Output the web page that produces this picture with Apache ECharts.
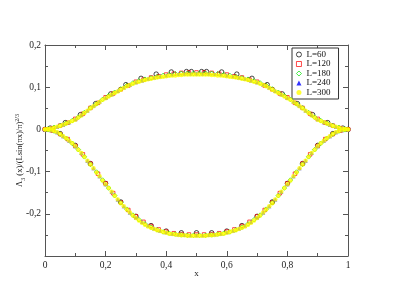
<!DOCTYPE html>
<html><head><meta charset="utf-8">
<script src="https://cdn.jsdelivr.net/npm/echarts@6/dist/echarts.min.js"></script>
<style>html,body{margin:0;padding:0;background:#fff}#c{width:415px;height:294px}</style>
</head><body><div id="c"></div>
<script>
// ---- data ----
var seriesNames = ['L=60', 'L=120', 'L=180', 'L=240', 'L=300'];
var xTicks = ['0', '0,2', '0,4', '0,6', '0,8', '1'];
var yTicks = ['-0,2', '-0,1', '0', '0,1', '0,2'];

// L=60 (upper and lower branch at different x)
var x60Up = [0, 0.017, 0.067, 0.117, 0.167, 0.217, 0.267, 0.317, 0.367, 0.417, 0.467, 0.483, 0.517, 0.533, 0.583, 0.633, 0.683, 0.733, 0.783, 0.833, 0.883, 0.933, 0.983, 1];
var y60Up = [0, 0.003, 0.016, 0.035, 0.061, 0.084, 0.106, 0.121, 0.131, 0.136, 0.137, 0.137, 0.137, 0.137, 0.136, 0.131, 0.121, 0.106, 0.084, 0.061, 0.035, 0.016, 0.003, 0];
var x60Lo = [0.05, 0.1, 0.15, 0.2, 0.25, 0.3, 0.35, 0.4, 0.45, 0.5, 0.55, 0.6, 0.65, 0.7, 0.75, 0.8, 0.85, 0.9, 0.95];
var y60Lo = [-0.010, -0.038, -0.081, -0.128, -0.172, -0.206, -0.228, -0.241, -0.245, -0.245, -0.245, -0.241, -0.228, -0.206, -0.172, -0.128, -0.081, -0.038, -0.010];

// L=120
var x120 = [0, 0.025, 0.05, 0.075, 0.1, 0.125, 0.15, 0.175, 0.2, 0.225, 0.25, 0.275, 0.3, 0.325, 0.35, 0.375, 0.4, 0.425, 0.45, 0.475, 0.5,
  0.525, 0.55, 0.575, 0.6, 0.625, 0.65, 0.675, 0.7, 0.725, 0.75, 0.775, 0.8, 0.825, 0.85, 0.875, 0.9, 0.925, 0.95, 0.975, 1];
var y120Up = [0, 0.003, 0.009, 0.016, 0.025, 0.037, 0.051, 0.063, 0.076, 0.085, 0.095, 0.104, 0.113, 0.118, 0.123, 0.126, 0.130, 0.132, 0.134, 0.135, 0.135,
  0.135, 0.134, 0.132, 0.130, 0.126, 0.123, 0.118, 0.113, 0.104, 0.095, 0.085, 0.076, 0.063, 0.051, 0.037, 0.025, 0.016, 0.009, 0.003, 0];
var y120Lo = [0, -0.003, -0.011, -0.023, -0.039, -0.059, -0.081, -0.105, -0.128, -0.151, -0.173, -0.191, -0.206, -0.219, -0.229, -0.237, -0.242, -0.246, -0.248, -0.249, -0.249,
  -0.249, -0.248, -0.246, -0.242, -0.237, -0.229, -0.219, -0.206, -0.191, -0.173, -0.151, -0.128, -0.105, -0.081, -0.059, -0.039, -0.023, -0.011, -0.003, 0];

// L=180
var x180 = [0.01, 0.03, 0.05, 0.07, 0.09, 0.11, 0.13, 0.15, 0.17, 0.19, 0.21, 0.23, 0.25, 0.27, 0.29, 0.31, 0.33, 0.35, 0.37, 0.39, 0.41, 0.43, 0.45, 0.47, 0.49,
  0.51, 0.53, 0.55, 0.57, 0.59, 0.61, 0.63, 0.65, 0.67, 0.69, 0.71, 0.73, 0.75, 0.77, 0.79, 0.81, 0.83, 0.85, 0.87, 0.89, 0.91, 0.93, 0.95, 0.97, 0.99];
var y180Up = [0.001, 0.005, 0.009, 0.015, 0.021, 0.029, 0.040, 0.051, 0.061, 0.071, 0.080, 0.088, 0.096, 0.104, 0.110, 0.115, 0.119, 0.122, 0.125, 0.128, 0.130, 0.132, 0.133, 0.133, 0.133,
  0.133, 0.133, 0.133, 0.132, 0.130, 0.128, 0.125, 0.122, 0.119, 0.115, 0.110, 0.104, 0.096, 0.088, 0.080, 0.071, 0.061, 0.051, 0.040, 0.029, 0.021, 0.015, 0.009, 0.005, 0.001];
var y180Lo = [-0.001, -0.004, -0.011, -0.021, -0.033, -0.048, -0.065, -0.083, -0.101, -0.120, -0.139, -0.157, -0.174, -0.189, -0.203, -0.214, -0.224, -0.232, -0.238, -0.243, -0.246, -0.248, -0.250, -0.251, -0.251,
  -0.251, -0.251, -0.250, -0.248, -0.246, -0.243, -0.238, -0.232, -0.224, -0.214, -0.203, -0.189, -0.174, -0.157, -0.139, -0.120, -0.101, -0.083, -0.065, -0.048, -0.033, -0.021, -0.011, -0.004, -0.001];

// L=240
var x240 = [0, 0.02, 0.04, 0.06, 0.08, 0.1, 0.12, 0.14, 0.16, 0.18, 0.2, 0.22, 0.24, 0.26, 0.28, 0.3, 0.32, 0.34, 0.36, 0.38, 0.4, 0.42, 0.44, 0.46, 0.48, 0.5,
  0.52, 0.54, 0.56, 0.58, 0.6, 0.62, 0.64, 0.66, 0.68, 0.7, 0.72, 0.74, 0.76, 0.78, 0.8, 0.82, 0.84, 0.86, 0.88, 0.9, 0.92, 0.94, 0.96, 0.98, 1];
var y240Up = [0, 0.002, 0.006, 0.011, 0.017, 0.024, 0.034, 0.045, 0.056, 0.066, 0.075, 0.083, 0.091, 0.099, 0.106, 0.112, 0.116, 0.120, 0.123, 0.126, 0.128, 0.130, 0.131, 0.132, 0.132, 0.132,
  0.132, 0.132, 0.131, 0.130, 0.128, 0.126, 0.123, 0.120, 0.116, 0.112, 0.106, 0.099, 0.091, 0.083, 0.075, 0.066, 0.056, 0.045, 0.034, 0.024, 0.017, 0.011, 0.006, 0.002, 0];
var y240Lo = [0, -0.002, -0.007, -0.016, -0.027, -0.040, -0.056, -0.074, -0.092, -0.111, -0.130, -0.148, -0.166, -0.182, -0.197, -0.209, -0.219, -0.228, -0.235, -0.240, -0.244, -0.247, -0.249, -0.250, -0.251, -0.251,
  -0.251, -0.250, -0.249, -0.247, -0.244, -0.240, -0.235, -0.228, -0.219, -0.209, -0.197, -0.182, -0.166, -0.148, -0.130, -0.111, -0.092, -0.074, -0.056, -0.040, -0.027, -0.016, -0.007, -0.002, 0];

// L=300
var x300 = [0, 0.01, 0.02, 0.03, 0.04, 0.05, 0.06, 0.07, 0.08, 0.09, 0.1, 0.11, 0.12, 0.13, 0.14, 0.15, 0.16, 0.17, 0.18, 0.19, 0.2, 0.21, 0.22, 0.23, 0.24, 0.25,
  0.26, 0.27, 0.28, 0.29, 0.3, 0.31, 0.32, 0.33, 0.34, 0.35, 0.36, 0.37, 0.38, 0.39, 0.4, 0.41, 0.42, 0.43, 0.44, 0.45, 0.46, 0.47, 0.48, 0.49, 0.5,
  0.51, 0.52, 0.53, 0.54, 0.55, 0.56, 0.57, 0.58, 0.59, 0.6, 0.61, 0.62, 0.63, 0.64, 0.65, 0.66, 0.67, 0.68, 0.69, 0.7, 0.71, 0.72, 0.73, 0.74, 0.75,
  0.76, 0.77, 0.78, 0.79, 0.8, 0.81, 0.82, 0.83, 0.84, 0.85, 0.86, 0.87, 0.88, 0.89, 0.9, 0.91, 0.92, 0.93, 0.94, 0.95, 0.96, 0.97, 0.98, 0.99, 1];
var y300Up = [0, 0.001, 0.002, 0.004, 0.006, 0.008, 0.011, 0.014, 0.017, 0.020, 0.023,
  0.028, 0.033, 0.039, 0.044, 0.050, 0.055, 0.060, 0.065, 0.070, 0.074,
  0.078, 0.082, 0.086, 0.090, 0.094, 0.098, 0.102, 0.105, 0.108, 0.111,
  0.113, 0.115, 0.117, 0.119, 0.120, 0.122, 0.123, 0.124, 0.125, 0.126,
  0.127, 0.128, 0.128, 0.129, 0.129, 0.130, 0.130, 0.130, 0.130, 0.130,
  0.130, 0.130, 0.130, 0.130, 0.129, 0.129, 0.128, 0.128, 0.127, 0.126,
  0.125, 0.124, 0.123, 0.122, 0.120, 0.119, 0.117, 0.115, 0.113, 0.111,
  0.108, 0.105, 0.102, 0.098, 0.094, 0.090, 0.086, 0.082, 0.078, 0.074,
  0.070, 0.065, 0.060, 0.055, 0.050, 0.044, 0.039, 0.033, 0.028, 0.023,
  0.020, 0.017, 0.014, 0.011, 0.008, 0.006, 0.004, 0.002, 0.001, 0];
var y300Lo = [0, -0.0005, -0.002, -0.004, -0.007, -0.011, -0.016, -0.021, -0.027, -0.033, -0.040,
  -0.048, -0.056, -0.065, -0.074, -0.083, -0.092, -0.102, -0.111, -0.121, -0.130,
  -0.139, -0.148, -0.157, -0.166, -0.175, -0.182, -0.190, -0.197, -0.204, -0.210,
  -0.216, -0.221, -0.226, -0.230, -0.233, -0.236, -0.239, -0.241, -0.243, -0.245,
  -0.247, -0.248, -0.249, -0.250, -0.251, -0.251, -0.252, -0.252, -0.252, -0.252,
  -0.252, -0.252, -0.252, -0.251, -0.251, -0.250, -0.249, -0.248, -0.247, -0.245,
  -0.243, -0.241, -0.239, -0.236, -0.233, -0.230, -0.226, -0.221, -0.216, -0.210,
  -0.204, -0.197, -0.190, -0.182, -0.175, -0.166, -0.157, -0.148, -0.139, -0.130,
  -0.121, -0.111, -0.102, -0.092, -0.083, -0.074, -0.065, -0.056, -0.048, -0.040,
  -0.033, -0.027, -0.021, -0.016, -0.011, -0.007, -0.004, -0.002, -0.0005, 0];

// ---- build ----
function zip(xs, ys) { var out = []; for (var i = 0; i < xs.length; i++) out.push([xs[i], ys[i]]); return out; }
var serif = "'Liberation Serif', 'DejaVu Serif', serif";

var seriesData = [
  zip(x60Up, y60Up).concat(zip(x60Lo, y60Lo)),
  zip(x120, y120Up).concat(zip(x120, y120Lo)),
  zip(x180, y180Up).concat(zip(x180, y180Lo)),
  zip(x240, y240Up).concat(zip(x240, y240Lo)),
  zip(x300, y300Up).concat(zip(x300, y300Lo))
];
var styles = [
  { symbol: 'circle', size: 4.5, itemStyle: { color: 'rgba(255,255,255,0)', borderColor: '#000', borderWidth: 0.9 } },
  { symbol: 'rect', size: 3.5, itemStyle: { color: 'rgba(255,255,255,0)', borderColor: '#ff0000', borderWidth: 0.9 } },
  { symbol: 'diamond', size: 4.5, itemStyle: { color: 'rgba(255,255,255,0)', borderColor: '#00dd00', borderWidth: 0.9 } },
  { symbol: 'triangle', size: 4, itemStyle: { color: '#0000ff' } },
  { symbol: 'circle', size: 4.5, itemStyle: { color: '#ffff00' } }
];

function xLabel(v) { var i = Math.round(v * 5); return xTicks[i]; }
function yLabel(v) { var i = Math.round(v * 10) + 2; return (i >= 0 && i < yTicks.length) ? yTicks[i] : ''; }

function axisCommon() {
  return {
    axisLine: { show: true, onZero: false, lineStyle: { color: '#555', width: 1 } },
    axisTick: { show: true, inside: true, length: 5, lineStyle: { color: '#555', width: 1 } },
    minorTick: { show: true, splitNumber: 2, length: 3, lineStyle: { color: '#555', width: 1 } },
    splitLine: { show: false },
    minorSplitLine: { show: false }
  };
}

var option = {
  animation: false,
  backgroundColor: '#fff',
  grid: { left: 45, right: 67, top: 45, bottom: 38 },
  xAxis: [
    Object.assign({ type: 'value', min: 0, max: 1, interval: 0.2, position: 'bottom',
      name: 'x', nameLocation: 'middle', nameGap: 13, nameMoveOverlap: false,
      nameTextStyle: { fontFamily: serif, fontSize: 9, color: '#222' },
      axisLabel: { formatter: xLabel, fontFamily: serif, fontSize: 9.5, color: '#222', margin: 4, showMinLabel: true, showMaxLabel: true }
    }, axisCommon()),
    Object.assign({ type: 'value', min: 0, max: 1, interval: 0.2, position: 'top', axisLabel: { show: false } }, axisCommon())
  ],
  yAxis: [
    Object.assign({ type: 'value', min: -0.3, max: 0.2, interval: 0.1, position: 'left',
      name: '{a|Λ}{s|3}{a| (x)/(Lsin(πx)/π)}{p|2/3}', nameLocation: 'middle', nameGap: 19, nameRotate: 90, nameMoveOverlap: false,
      nameTextStyle: { fontFamily: serif, fontSize: 8.5, color: '#222',
        rich: {
          a: { fontFamily: serif, fontSize: 8.5, color: '#222', lineHeight: 12, verticalAlign: 'middle' },
          s: { fontFamily: serif, fontSize: 6, color: '#222', lineHeight: 12, verticalAlign: 'bottom' },
          p: { fontFamily: serif, fontSize: 6, color: '#222', lineHeight: 12, verticalAlign: 'top' }
        } },
      axisLabel: { formatter: yLabel, fontFamily: serif, fontSize: 9.5, color: '#222', margin: 4 }
    }, axisCommon()),
    Object.assign({ type: 'value', min: -0.3, max: 0.2, interval: 0.1, position: 'right', axisLabel: { show: false } }, axisCommon())
  ],
  legend: {
    orient: 'vertical', left: 292, top: 48,
    padding: [2, 8, 2, 4], itemGap: 0.5, itemWidth: 5, itemHeight: 5,
    borderColor: '#333', borderWidth: 1, backgroundColor: '#fff',
    textStyle: { fontFamily: serif, fontSize: 9, color: '#111', lineHeight: 9 },
    data: seriesNames.map(function (n, i) {
      return { name: n, icon: styles[i].symbol,
        itemStyle: { color: styles[i].itemStyle.color, borderColor: styles[i].itemStyle.borderColor || styles[i].itemStyle.color, borderWidth: styles[i].itemStyle.borderWidth || 0 } };
    })
  },
  series: seriesNames.map(function (n, i) {
    return { name: n, type: 'scatter', data: seriesData[i], symbol: styles[i].symbol, symbolSize: styles[i].size,
      itemStyle: styles[i].itemStyle, xAxisIndex: 0, yAxisIndex: 0, z: 2 + i, emphasis: { disabled: true } };
  })
};
echarts.init(document.getElementById('c'), null, { renderer: 'canvas' }).setOption(option);
</script></body></html>
